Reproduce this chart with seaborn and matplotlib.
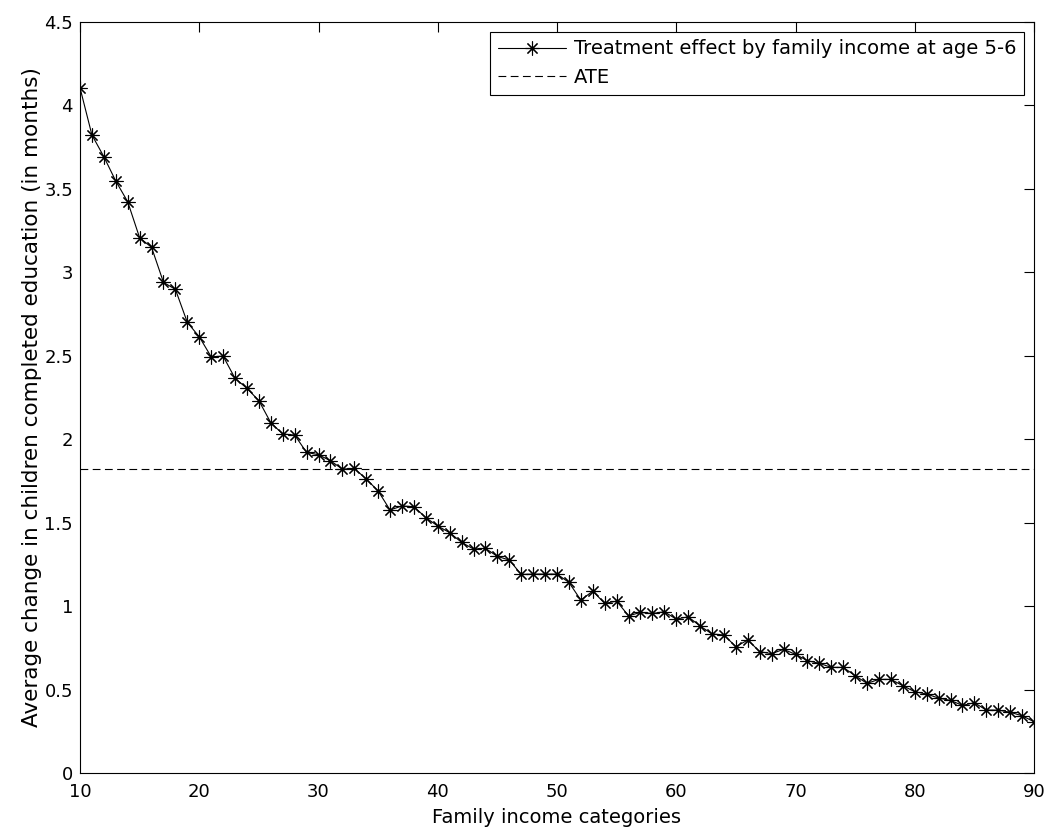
import numpy as np
import pandas as pd
import matplotlib
matplotlib.use("Agg")
import matplotlib.pyplot as plt
from matplotlib.ticker import FormatStrFormatter, MultipleLocator
import seaborn as sns

income = list(range(10, 91))
effect = [4.106, 3.823, 3.693, 3.547, 3.423, 3.207, 3.150, 2.940, 2.898, 2.700,
          2.614, 2.494, 2.498, 2.365, 2.305, 2.231, 2.099, 2.031, 2.025, 1.921,
          1.907, 1.871, 1.821, 1.825, 1.762, 1.690, 1.576, 1.600, 1.596, 1.530,
          1.480, 1.440, 1.382, 1.342, 1.346, 1.298, 1.276, 1.190, 1.192, 1.192,
          1.192, 1.142, 1.036, 1.090, 1.016, 1.030, 0.942, 0.962, 0.956, 0.966,
          0.922, 0.936, 0.881, 0.833, 0.827, 0.757, 0.797, 0.727, 0.715, 0.741,
          0.711, 0.673, 0.657, 0.633, 0.633, 0.583, 0.537, 0.561, 0.561, 0.523,
          0.487, 0.473, 0.449, 0.435, 0.405, 0.421, 0.377, 0.377, 0.364, 0.343,
          0.307]
ate = 1.821

series_label = "Treatment effect by family income at age 5-6"
ate_label = "ATE"
x_label = "Family income categories"
y_label = "Average change in children completed education (in months)"

df = pd.DataFrame({"income": income, "effect": effect})

sns.set_style("white")
plt.rcParams['font.family'] = ['DejaVu Sans']
plt.rcParams['text.color'] = 'black'
plt.rcParams['axes.labelcolor'] = 'black'

fig = plt.figure(figsize=(10.47, 8.31), dpi=100)
ax = fig.add_axes([80 / 1047, 58 / 831, (1034 - 80) / 1047, (773 - 22) / 831])

sns.lineplot(data=df, x="income", y="effect", ax=ax, color="black",
             linewidth=0.8, marker=(8, 2, 0), markersize=10,
             markeredgewidth=0.8, markeredgecolor="black",
             label=series_label)
ax.axhline(ate, color="black", linewidth=0.8, linestyle=(0, (7, 4)),
           label=ate_label)

ax.set_xlim(10, 90)
ax.set_ylim(0, 4.5)
ax.xaxis.set_major_locator(MultipleLocator(10))
ax.yaxis.set_major_locator(MultipleLocator(0.5))
ax.yaxis.set_major_formatter(FormatStrFormatter('%g'))
ax.tick_params(direction="in", length=7, width=0.8, top=True, right=True,
               labelsize=13, colors="black")
ax.tick_params(axis="x", pad=7)
ax.tick_params(axis="y", pad=5)
for s in ax.spines.values():
    s.set_color("black")
    s.set_linewidth(0.8)

ax.set_xlabel(x_label, fontsize=14, labelpad=5)
ax.set_ylabel(y_label, fontsize=15.5, labelpad=2)

leg = ax.legend(loc="upper right", fontsize=14, frameon=True, fancybox=False,
                edgecolor="black", framealpha=1, borderaxespad=0.5,
                handlelength=3.5, borderpad=0.4, labelspacing=0.5,
                handletextpad=0.4)
leg.get_frame().set_linewidth(0.8)

fig.savefig("out.png", dpi=100)
